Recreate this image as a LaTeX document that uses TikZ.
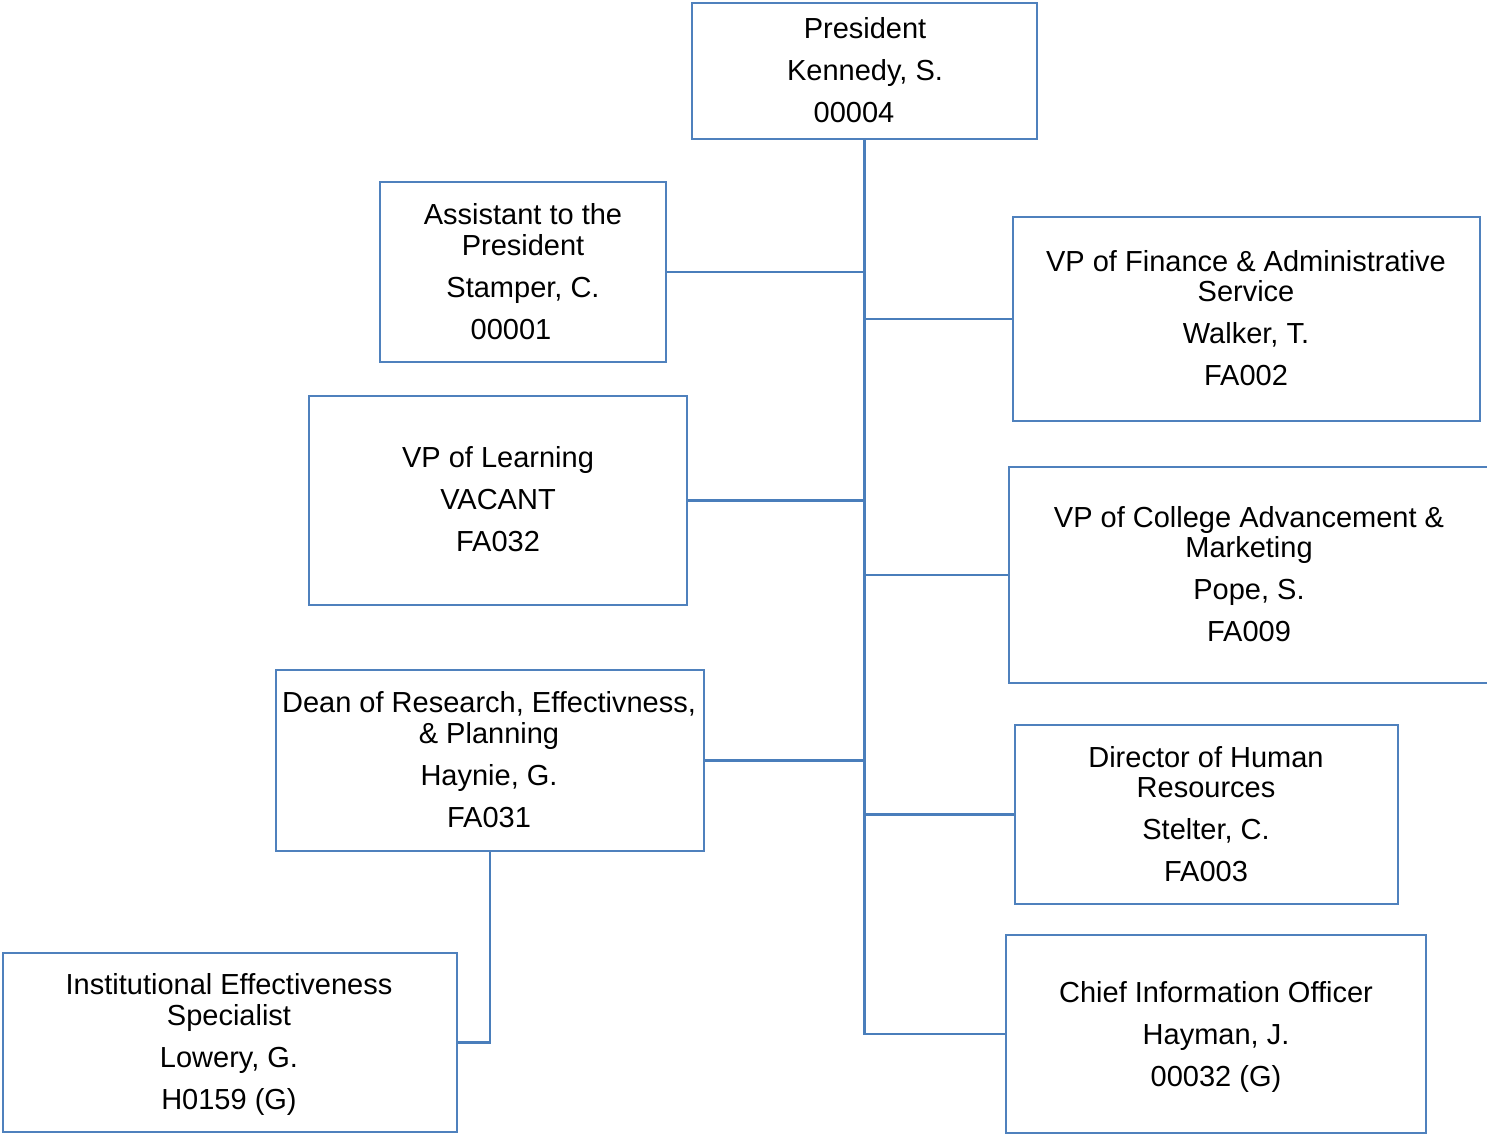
\documentclass[tikz,border=0pt]{standalone}
\usepackage{fontspec}
\setmainfont{Liberation Sans}
\definecolor{boxblue}{RGB}{79,129,189}
\definecolor{lineblue}{RGB}{74,126,187}
\tikzset{
  box/.style={draw=boxblue, line width=2.6pt, fill=none, inner sep=0pt, rectangle},
  conn/.style={draw=lineblue, line width=2.6pt},
  txt/.style={anchor=base, inner sep=0pt, font=\fontsize{29}{33}\selectfont}
}
\begin{document}
\begin{tikzpicture}[x=1pt,y=-1pt]
\useasboundingbox (0,0) rectangle (1487,1135);
% boxes
\node[box, minimum width=345, minimum height=136] (pres) at (864.5,71) {};
\node[box, minimum width=286, minimum height=180] (asst) at (523,272) {};
\node[box, minimum width=467, minimum height=204] (fin) at (1246.5,319) {};
\node[box, minimum width=378, minimum height=209] (learn) at (498,500.5) {};
\node[box, minimum width=491, minimum height=216] (coll) at (1254.5,575) {};
\node[box, minimum width=428, minimum height=181] (dean) at (490,760.5) {};
\node[box, minimum width=383, minimum height=179] (hr) at (1206.5,814.5) {};
\node[box, minimum width=420, minimum height=198] (cio) at (1216,1034) {};
\node[box, minimum width=454, minimum height=179] (ies) at (230,1042.5) {};
% texts
\node[txt] (p1) at (865,38) {President};
\node[txt] (p2) at (865,80) {Kennedy, S.};
\node[txt] (p3) at (854,122) {00004};
\node[txt] (a1) at (523,224) {Assistant to the};
\node[txt] (a2) at (523,255) {President};
\node[txt] (a3) at (523,297) {Stamper, C.};
\node[txt] (a4) at (511,339) {00001};
\node[txt] (f1) at (1246,271) {VP of Finance \& Administrative};
\node[txt] (f2) at (1246,301) {Service};
\node[txt] (f3) at (1246,343) {Walker, T.};
\node[txt] (f4) at (1246,385) {FA002};
\node[txt] (l1) at (498,467) {VP of Learning};
\node[txt] (l2) at (498,509) {VACANT};
\node[txt] (l3) at (498,551) {FA032};
\node[txt] (c1) at (1249,527) {VP of College Advancement \&};
\node[txt] (c2) at (1249,557) {Marketing};
\node[txt] (c3) at (1249,599) {Pope, S.};
\node[txt] (c4) at (1249,641) {FA009};
\node[txt] (d1) at (489,712) {Dean of Research, Effectivness,};
\node[txt] (d2) at (489,743) {\& Planning};
\node[txt] (d3) at (489,785) {Haynie, G.};
\node[txt] (d4) at (489,827) {FA031};
\node[txt] (h1) at (1206,767) {Director of Human};
\node[txt] (h2) at (1206,797) {Resources};
\node[txt] (h3) at (1206,839) {Stelter, C.};
\node[txt] (h4) at (1206,881) {FA003};
\node[txt] (o1) at (1216,1002) {Chief Information Officer};
\node[txt] (o2) at (1216,1044) {Hayman, J.};
\node[txt] (o3) at (1216,1086) {00032 (G)};
\node[txt] (i1) at (229,994) {Institutional Effectiveness};
\node[txt] (i2) at (229,1025) {Specialist};
\node[txt] (i3) at (229,1067) {Lowery, G.};
\node[txt] (i4) at (229,1109) {H0159 (G)};
% connectors
\coordinate (trunkend) at (pres.south |- cio.west);
\draw[conn] (pres.south) -- (trunkend) -- (cio.west);
\draw[conn] (asst.east) -- (asst.east -| pres.south);
\draw[conn] (fin.west) -- (fin.west -| pres.south);
\draw[conn] (learn.east) -- (learn.east -| pres.south);
\draw[conn] (coll.west) -- (coll.west -| pres.south);
\draw[conn] (dean.east) -- (dean.east -| pres.south);
\draw[conn] (hr.west) -- (hr.west -| pres.south);
\draw[conn] (dean.south) |- (ies.east);
\end{tikzpicture}
\end{document}
